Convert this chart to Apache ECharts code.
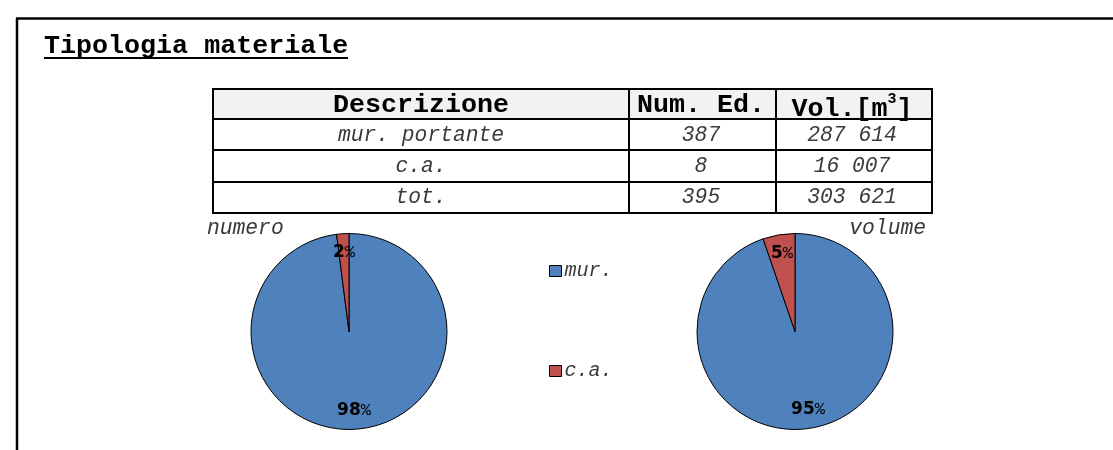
<!DOCTYPE html>
<html>
<head>
<meta charset="utf-8">
<script src="https://cdn.jsdelivr.net/npm/echarts@6/dist/echarts.min.js"></script>
<style>
html,body{margin:0;padding:0;background:#fff;}
#main{width:1113px;height:450px;}
</style>
</head>
<body>
<div id="main"></div>
<script>
// ---- data ----
const chartTitle = 'Tipologia materiale';
const categories = ['mur.', 'c.a.'];
const tableHeader = ['Descrizione', 'Num. Ed.', 'Vol.[m', '3', ']'];
const rowLabels = ['mur. portante', 'c.a.', 'tot.'];
const numEdifici = [387, 8, 395];
const volumi = [287614, 16007, 303621];
const pieTitles = ['numero', 'volume'];

const colors = ['#4F81BD', '#C0504D'];
const MONO = "'Liberation Mono','Courier New',monospace";

function fmtSpace(n) {
  return String(n).replace(/\B(?=(\d{3})+(?!\d))/g, ' ');
}

// ---- layout (positions only) ----
const colEdges = [213, 629, 776, 932];
const rowEdges = [89, 119, 150, 182, 213];
const rowMid = [105, 135.5, 166.5, 197.5];

const g = [];
// outer frame
g.push({type:'line', shape:{x1:16, y1:18.5, x2:1113, y2:18.5}, style:{stroke:'#000', lineWidth:2.5}});
g.push({type:'line', shape:{x1:17, y1:18, x2:17, y2:450}, style:{stroke:'#000', lineWidth:2.5}});
// title
g.push({type:'text', x:44, y:46, style:{text:chartTitle, font:'bold 26.7px ' + MONO, fill:'#000',
  textAlign:'left', textVerticalAlign:'middle', align:'left', verticalAlign:'middle'}});
g.push({type:'line', shape:{x1:44, y1:58, x2:348, y2:58}, style:{stroke:'#000', lineWidth:2}});

// table header background
g.push({type:'rect', shape:{x:colEdges[0], y:rowEdges[0], width:colEdges[3]-colEdges[0], height:rowEdges[1]-rowEdges[0]},
  style:{fill:'#f2f2f2'}});
// header texts
const colMid = [421, 701, 852];
g.push({type:'text', x:colMid[0], y:rowMid[0], style:{text:tableHeader[0], font:'bold 26.7px ' + MONO, fill:'#000',
  textAlign:'center', textVerticalAlign:'middle', align:'center', verticalAlign:'middle'}});
g.push({type:'text', x:colMid[1], y:rowMid[0], style:{text:tableHeader[1], font:'bold 26.7px ' + MONO, fill:'#000',
  textAlign:'center', textVerticalAlign:'middle', align:'center', verticalAlign:'middle'}});
g.push({type:'text', x:colMid[2], y:rowMid[0] + 2, style:{
  text:'{a|' + tableHeader[2] + '}{s|' + tableHeader[3] + '}{a|' + tableHeader[4] + '}',
  fill:'#000', textAlign:'center', textVerticalAlign:'middle', align:'center', verticalAlign:'middle',
  rich:{a:{font:'bold 26.7px ' + MONO, fill:'#000', verticalAlign:'bottom'},
        s:{font:'bold 15px ' + MONO, fill:'#000', verticalAlign:'top', padding:[0,0,16,0]}}}});
// body rows
for (let i = 0; i < rowLabels.length; i++) {
  const y = rowMid[i + 1];
  const vals = [rowLabels[i], String(numEdifici[i]), fmtSpace(volumi[i])];
  for (let c = 0; c < 3; c++) {
    g.push({type:'text', x:colMid[c], y:y, style:{text:vals[c], font:'italic 21.3px ' + MONO, fill:'#3a3a3a',
      textAlign:'center', textVerticalAlign:'middle', align:'center', verticalAlign:'middle'}});
  }
}
// table lines
for (const y of rowEdges) {
  g.push({type:'line', shape:{x1:colEdges[0]-1, y1:y, x2:colEdges[3]+1, y2:y}, style:{stroke:'#000', lineWidth:2}});
}
for (const x of colEdges) {
  g.push({type:'line', shape:{x1:x, y1:rowEdges[0], x2:x, y2:rowEdges[4]}, style:{stroke:'#000', lineWidth:2}});
}
// pie titles
g.push({type:'text', x:207, y:228, style:{text:pieTitles[0], font:'italic 21.3px ' + MONO, fill:'#3a3a3a',
  textAlign:'left', textVerticalAlign:'middle', align:'left', verticalAlign:'middle'}});
g.push({type:'text', x:926, y:228, style:{text:pieTitles[1], font:'italic 21.3px ' + MONO, fill:'#3a3a3a',
  textAlign:'right', textVerticalAlign:'middle', align:'right', verticalAlign:'middle'}});

function pieData(vals) {
  return categories.map((c, i) => ({name:c, value:vals[i]}));
}
const labelCfg = {
  show:true, position:'inside',
  formatter: p => '{n|' + Math.round(p.percent) + '}{p|%}',
  rich:{
    n:{fontFamily:"'DejaVu Sans',sans-serif", fontWeight:'bold', fontSize:17, color:'#000'},
    p:{fontFamily:MONO, fontSize:17, color:'#000'}
  }
};
function pieSeries(center, vals) {
  return [
    {type:'pie', center:center, radius:98, startAngle:90, clockwise:true,
     data:pieData(vals), label:{show:false}, labelLine:{show:false},
     itemStyle:{borderColor:'#000', borderWidth:1}, emphasis:{disabled:true}, animation:false},
    {type:'pie', center:center, radius:[54, 98], startAngle:90, clockwise:true, silent:true,
     data:pieData(vals), label:labelCfg, labelLine:{show:false},
     itemStyle:{color:'rgba(0,0,0,0)', borderWidth:0}, emphasis:{disabled:true}, animation:false}
  ];
}

const chart = echarts.init(document.getElementById('main'), null, {renderer:'canvas'});
chart.setOption({
  animation:false,
  color:colors,
  legend:{
    data:categories, orient:'vertical', left:549, top:261, padding:0,
    itemWidth:12, itemHeight:11, itemGap:80, icon:'rect',
    itemStyle:{borderColor:'#000', borderWidth:1},
    textStyle:{fontFamily:MONO, fontStyle:'italic', fontSize:20, color:'#3a3a3a', lineHeight:20, padding:[0,0,0,-2]},
    selectedMode:false
  },
  series:[...pieSeries([349, 331.5], numEdifici), ...pieSeries([795, 331.5], volumi)],
  graphic:g
});
</script>
</body>
</html>
